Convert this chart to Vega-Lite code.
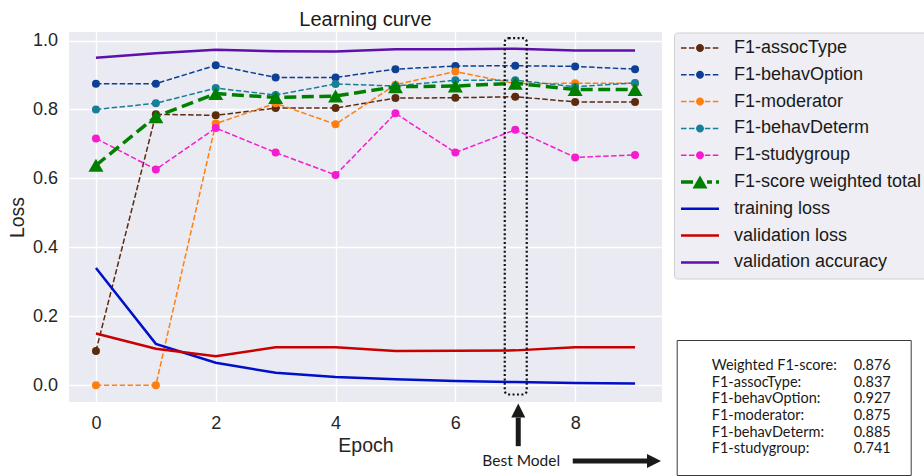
{
  "$schema": "https://vega.github.io/schema/vega-lite/v6.json",
  "width": 593,
  "height": 370,
  "autosize": {"type": "none"},
  "padding": {"left": 69, "top": 32, "right": 262, "bottom": 74},
  "background": "white",
  "config": {
    "view": {"fill": "#eaeaf2", "stroke": null},
    "font": "Liberation Sans",
    "axis": {
      "grid": true, "gridColor": "white", "gridWidth": 1.3, "domain": false, "ticks": false, "tickSize": 0,
      "labelFont": "Liberation Sans", "labelFontSize": 18, "labelColor": "#262626",
      "titleFont": "Liberation Sans", "titleFontSize": 19.5, "titleFontWeight": "normal", "titleColor": "#262626"
    }
  },
  "title": {"text": "Learning curve", "font": "Liberation Sans", "fontSize": 20, "fontWeight": "normal", "color": "#1a1a1a", "offset": 2, "frame": "group", "anchor": "middle"},
  "resolve": {"scale": {"shape": "independent", "fill": "independent"}},
  "datasets": {
    "curves": [
      {"epoch": 0, "series": "F1-assocType", "value": 0.099}, {"epoch": 1, "series": "F1-assocType", "value": 0.786}, {"epoch": 2, "series": "F1-assocType", "value": 0.783}, {"epoch": 3, "series": "F1-assocType", "value": 0.804}, {"epoch": 4, "series": "F1-assocType", "value": 0.804}, {"epoch": 5, "series": "F1-assocType", "value": 0.833}, {"epoch": 6, "series": "F1-assocType", "value": 0.834}, {"epoch": 7, "series": "F1-assocType", "value": 0.837}, {"epoch": 8, "series": "F1-assocType", "value": 0.822}, {"epoch": 9, "series": "F1-assocType", "value": 0.822},
      {"epoch": 0, "series": "F1-behavOption", "value": 0.875}, {"epoch": 1, "series": "F1-behavOption", "value": 0.875}, {"epoch": 2, "series": "F1-behavOption", "value": 0.928}, {"epoch": 3, "series": "F1-behavOption", "value": 0.893}, {"epoch": 4, "series": "F1-behavOption", "value": 0.893}, {"epoch": 5, "series": "F1-behavOption", "value": 0.917}, {"epoch": 6, "series": "F1-behavOption", "value": 0.926}, {"epoch": 7, "series": "F1-behavOption", "value": 0.927}, {"epoch": 8, "series": "F1-behavOption", "value": 0.925}, {"epoch": 9, "series": "F1-behavOption", "value": 0.917},
      {"epoch": 0, "series": "F1-moderator", "value": 0.0}, {"epoch": 1, "series": "F1-moderator", "value": 0.0}, {"epoch": 2, "series": "F1-moderator", "value": 0.759}, {"epoch": 3, "series": "F1-moderator", "value": 0.818}, {"epoch": 4, "series": "F1-moderator", "value": 0.757}, {"epoch": 5, "series": "F1-moderator", "value": 0.872}, {"epoch": 6, "series": "F1-moderator", "value": 0.91}, {"epoch": 7, "series": "F1-moderator", "value": 0.875}, {"epoch": 8, "series": "F1-moderator", "value": 0.876}, {"epoch": 9, "series": "F1-moderator", "value": 0.876},
      {"epoch": 0, "series": "F1-behavDeterm", "value": 0.8}, {"epoch": 1, "series": "F1-behavDeterm", "value": 0.818}, {"epoch": 2, "series": "F1-behavDeterm", "value": 0.862}, {"epoch": 3, "series": "F1-behavDeterm", "value": 0.842}, {"epoch": 4, "series": "F1-behavDeterm", "value": 0.874}, {"epoch": 5, "series": "F1-behavDeterm", "value": 0.868}, {"epoch": 6, "series": "F1-behavDeterm", "value": 0.885}, {"epoch": 7, "series": "F1-behavDeterm", "value": 0.885}, {"epoch": 8, "series": "F1-behavDeterm", "value": 0.866}, {"epoch": 9, "series": "F1-behavDeterm", "value": 0.877},
      {"epoch": 0, "series": "F1-studygroup", "value": 0.716}, {"epoch": 1, "series": "F1-studygroup", "value": 0.626}, {"epoch": 2, "series": "F1-studygroup", "value": 0.746}, {"epoch": 3, "series": "F1-studygroup", "value": 0.675}, {"epoch": 4, "series": "F1-studygroup", "value": 0.61}, {"epoch": 5, "series": "F1-studygroup", "value": 0.789}, {"epoch": 6, "series": "F1-studygroup", "value": 0.675}, {"epoch": 7, "series": "F1-studygroup", "value": 0.741}, {"epoch": 8, "series": "F1-studygroup", "value": 0.661}, {"epoch": 9, "series": "F1-studygroup", "value": 0.668},
      {"epoch": 0, "series": "F1-score weighted total", "value": 0.638}, {"epoch": 1, "series": "F1-score weighted total", "value": 0.779}, {"epoch": 2, "series": "F1-score weighted total", "value": 0.846}, {"epoch": 3, "series": "F1-score weighted total", "value": 0.835}, {"epoch": 4, "series": "F1-score weighted total", "value": 0.839}, {"epoch": 5, "series": "F1-score weighted total", "value": 0.866}, {"epoch": 6, "series": "F1-score weighted total", "value": 0.868}, {"epoch": 7, "series": "F1-score weighted total", "value": 0.876}, {"epoch": 8, "series": "F1-score weighted total", "value": 0.858}, {"epoch": 9, "series": "F1-score weighted total", "value": 0.858},
      {"epoch": 0, "series": "training loss", "value": 0.34}, {"epoch": 1, "series": "training loss", "value": 0.12}, {"epoch": 2, "series": "training loss", "value": 0.065}, {"epoch": 3, "series": "training loss", "value": 0.036}, {"epoch": 4, "series": "training loss", "value": 0.024}, {"epoch": 5, "series": "training loss", "value": 0.017}, {"epoch": 6, "series": "training loss", "value": 0.012}, {"epoch": 7, "series": "training loss", "value": 0.009}, {"epoch": 8, "series": "training loss", "value": 0.006}, {"epoch": 9, "series": "training loss", "value": 0.005},
      {"epoch": 0, "series": "validation loss", "value": 0.15}, {"epoch": 1, "series": "validation loss", "value": 0.106}, {"epoch": 2, "series": "validation loss", "value": 0.084}, {"epoch": 3, "series": "validation loss", "value": 0.11}, {"epoch": 4, "series": "validation loss", "value": 0.11}, {"epoch": 5, "series": "validation loss", "value": 0.099}, {"epoch": 6, "series": "validation loss", "value": 0.1}, {"epoch": 7, "series": "validation loss", "value": 0.101}, {"epoch": 8, "series": "validation loss", "value": 0.11}, {"epoch": 9, "series": "validation loss", "value": 0.11},
      {"epoch": 0, "series": "validation accuracy", "value": 0.95}, {"epoch": 1, "series": "validation accuracy", "value": 0.963}, {"epoch": 2, "series": "validation accuracy", "value": 0.973}, {"epoch": 3, "series": "validation accuracy", "value": 0.969}, {"epoch": 4, "series": "validation accuracy", "value": 0.968}, {"epoch": 5, "series": "validation accuracy", "value": 0.975}, {"epoch": 6, "series": "validation accuracy", "value": 0.975}, {"epoch": 7, "series": "validation accuracy", "value": 0.976}, {"epoch": 8, "series": "validation accuracy", "value": 0.971}, {"epoch": 9, "series": "validation accuracy", "value": 0.971}
    ],
    "best": [
      {"metric": "Weighted F1-score:", "score": 0.876},
      {"metric": "F1-assocType:", "score": 0.837},
      {"metric": "F1-behavOption:", "score": 0.927},
      {"metric": "F1-moderator:", "score": 0.875},
      {"metric": "F1-behavDeterm:", "score": 0.885},
      {"metric": "F1-studygroup:", "score": 0.741}
    ],
    "annot": [{"epoch": 7, "label": "Best Model"}]
  },
  "layer": [
    {
      "data": {"name": "curves"},
      "transform": [{"filter": {"field": "series", "oneOf": ["F1-assocType", "F1-behavOption", "F1-moderator", "F1-behavDeterm", "F1-studygroup"]}}],
      "mark": {"type": "line", "strokeWidth": 1.5, "strokeDash": [5.5, 2.4]},
      "encoding": {
        "x": {"field": "epoch", "type": "quantitative", "scale": {"domain": [-0.45, 9.45], "nice": false, "zero": false},
              "axis": {"values": [0, 2, 4, 6, 8], "format": "d", "title": "Epoch", "labelPadding": 12, "titlePadding": 4}},
        "y": {"field": "value", "type": "quantitative", "scale": {"domain": [-0.0488, 1.0248], "nice": false, "zero": false},
              "axis": {"values": [0, 0.2, 0.4, 0.6, 0.8, 1.0], "format": ".1f", "title": "Loss", "labelPadding": 11.5, "titlePadding": 5}},
        "color": {
          "field": "series", "type": "nominal",
          "scale": {
            "domain": ["F1-assocType", "F1-behavOption", "F1-moderator", "F1-behavDeterm", "F1-studygroup", "F1-score weighted total", "training loss", "validation loss", "validation accuracy"],
            "range": ["#5c2b0e", "#0d3f94", "#ff7f0e", "#197f99", "#f51ccf", "#008000", "#0010c8", "#c80000", "#5d10aa"]
          },
          "legend": null
        }
      }
    },
    {
      "data": {"name": "curves"},
      "transform": [{"filter": {"field": "series", "oneOf": ["F1-assocType", "F1-behavOption", "F1-moderator", "F1-behavDeterm", "F1-studygroup"]}}],
      "mark": {"type": "point", "filled": true, "size": 64, "opacity": 1, "strokeWidth": 0},
      "encoding": {
        "x": {"field": "epoch", "type": "quantitative"},
        "y": {"field": "value", "type": "quantitative"},
        "color": {"field": "series", "type": "nominal", "legend": null}
      }
    },
    {
      "data": {"name": "curves"},
      "transform": [{"filter": {"field": "series", "equal": "F1-score weighted total"}}],
      "mark": {"type": "line", "strokeWidth": 3.5, "strokeDash": [12, 5.5]},
      "encoding": {
        "x": {"field": "epoch", "type": "quantitative"},
        "y": {"field": "value", "type": "quantitative"},
        "color": {"field": "series", "type": "nominal", "legend": null}
      }
    },
    {
      "data": {"name": "curves"},
      "transform": [{"filter": {"field": "series", "equal": "F1-score weighted total"}}],
      "mark": {"type": "point", "shape": "triangle-up", "filled": true, "size": 225, "opacity": 1, "strokeWidth": 0},
      "encoding": {
        "x": {"field": "epoch", "type": "quantitative"},
        "y": {"field": "value", "type": "quantitative"},
        "color": {"field": "series", "type": "nominal", "legend": null}
      }
    },
    {
      "data": {"name": "curves"},
      "transform": [{"filter": {"field": "series", "oneOf": ["training loss", "validation loss", "validation accuracy"]}}],
      "mark": {"type": "line", "strokeWidth": 2.5},
      "encoding": {
        "x": {"field": "epoch", "type": "quantitative"},
        "y": {"field": "value", "type": "quantitative"},
        "color": {"field": "series", "type": "nominal", "legend": null}
      }
    },
    {
      "data": {"name": "curves"},
      "mark": {"type": "point", "filled": true, "size": 100, "opacity": 1, "strokeWidth": 0, "clip": true},
      "encoding": {
        "x": {"datum": -5},
        "y": {"datum": 0.5},
        "fill": {
          "field": "series", "type": "nominal",
          "scale": {
            "domain": ["F1-assocType", "F1-behavOption", "F1-moderator", "F1-behavDeterm", "F1-studygroup", "F1-score weighted total", "training loss", "validation loss", "validation accuracy"],
            "range": ["#5c2b0e", "#0d3f94", "#ff7f0e", "#197f99", "#f51ccf", "#008000", "#0010c8", "#c80000", "#5d10aa"]
          },
          "legend": {
            "title": null, "orient": "none", "legendX": 605, "legendY": 0.5,
            "padding": 6.5, "rowPadding": 8.8, "fillColor": "#eeeef4", "strokeColor": "#d0d0d0", "cornerRadius": 3,
            "symbolSize": 100, "symbolStrokeWidth": 0, "symbolOpacity": 1, "symbolOffset": 10.5, "labelOffset": 25,
            "labelFont": "Liberation Sans", "labelFontSize": 18, "labelColor": "#1a1a1a", "labelLimit": 400
          }
        },
        "shape": {
          "field": "series", "type": "nominal",
          "scale": {
            "domain": ["F1-assocType", "F1-behavOption", "F1-moderator", "F1-behavDeterm", "F1-studygroup", "F1-score weighted total", "training loss", "validation loss", "validation accuracy"],
            "range": [
              "M-3.8,-0.15H-2.69V0.15H-3.8Z M-2.21,-0.15H-1.1V0.15H-2.21Z M0.97,-0.15H2.08V0.15H0.97Z M2.56,-0.15H3.67V0.15H2.56Z M-0.8,0A0.8,0.8 0 1,0 0.8,0A0.8,0.8 0 1,0 -0.8,0Z",
              "M-3.8,-0.15H-2.69V0.15H-3.8Z M-2.21,-0.15H-1.1V0.15H-2.21Z M0.97,-0.15H2.08V0.15H0.97Z M2.56,-0.15H3.67V0.15H2.56Z M-0.8,0A0.8,0.8 0 1,0 0.8,0A0.8,0.8 0 1,0 -0.8,0Z",
              "M-3.8,-0.15H-2.69V0.15H-3.8Z M-2.21,-0.15H-1.1V0.15H-2.21Z M0.97,-0.15H2.08V0.15H0.97Z M2.56,-0.15H3.67V0.15H2.56Z M-0.8,0A0.8,0.8 0 1,0 0.8,0A0.8,0.8 0 1,0 -0.8,0Z",
              "M-3.8,-0.15H-2.69V0.15H-3.8Z M-2.21,-0.15H-1.1V0.15H-2.21Z M0.97,-0.15H2.08V0.15H0.97Z M2.56,-0.15H3.67V0.15H2.56Z M-0.8,0A0.8,0.8 0 1,0 0.8,0A0.8,0.8 0 1,0 -0.8,0Z",
              "M-3.8,-0.15H-2.69V0.15H-3.8Z M-2.21,-0.15H-1.1V0.15H-2.21Z M0.97,-0.15H2.08V0.15H0.97Z M2.56,-0.15H3.67V0.15H2.56Z M-0.8,0A0.8,0.8 0 1,0 0.8,0A0.8,0.8 0 1,0 -0.8,0Z",
              "M-3.8,-0.35H-1.4V0.35H-3.8Z M1.4,-0.35H2.4V0.35H1.4Z M3.2,-0.35H3.8V0.35H3.2Z M0,-1.3L1.5,1.3L-1.5,1.3Z",
              "M-3.8,-0.25H3.8V0.25H-3.8Z",
              "M-3.8,-0.25H3.8V0.25H-3.8Z",
              "M-3.8,-0.25H3.8V0.25H-3.8Z"
            ]
          },
          "legend": {
            "title": null, "orient": "none", "legendX": 605, "legendY": 0.5,
            "padding": 6.5, "rowPadding": 8.8, "fillColor": "#eeeef4", "strokeColor": "#d0d0d0", "cornerRadius": 3,
            "symbolSize": 100, "symbolStrokeWidth": 0, "symbolOpacity": 1, "symbolOffset": 10.5, "labelOffset": 25,
            "labelFont": "Liberation Sans", "labelFontSize": 18, "labelColor": "#1a1a1a", "labelLimit": 400
          }
        }
      }
    },
    {
      "data": {"name": "annot"},
      "mark": {"type": "rect", "filled": false, "stroke": "#111111", "strokeWidth": 2.2, "strokeDash": [2, 2.4], "cornerRadius": 4, "width": 22, "xOffset": 0.5},
      "encoding": {
        "x": {"field": "epoch", "type": "quantitative"},
        "y": {"datum": 1.007},
        "y2": {"datum": -0.027}
      }
    },
    {
      "data": {"name": "annot"},
      "mark": {"type": "rule", "strokeWidth": 5, "color": "#1a1a1a", "xOffset": 3},
      "encoding": {
        "x": {"field": "epoch", "type": "quantitative"},
        "y": {"datum": -0.094},
        "y2": {"datum": -0.177}
      }
    },
    {
      "data": {"name": "annot"},
      "mark": {"type": "point", "shape": "M0,-1L1,1L-1,1Z", "size": 196, "filled": true, "opacity": 1, "color": "#1a1a1a", "strokeWidth": 0, "xOffset": 3},
      "encoding": {
        "x": {"field": "epoch", "type": "quantitative"},
        "y": {"datum": -0.0733}
      }
    },
    {
      "data": {"name": "annot"},
      "mark": {"type": "text", "font": "Lato", "fontSize": 15.5, "color": "#1a1a1a", "dx": 6, "align": "center", "baseline": "middle"},
      "encoding": {
        "x": {"field": "epoch", "type": "quantitative"},
        "y": {"datum": -0.22},
        "text": {"field": "label"}
      }
    },
    {
      "data": {"name": "annot"},
      "mark": {"type": "rule", "strokeWidth": 5, "color": "#1a1a1a"},
      "encoding": {
        "x": {"datum": 7.96},
        "x2": {"datum": 9.22},
        "y": {"datum": -0.22}
      }
    },
    {
      "data": {"name": "annot"},
      "mark": {"type": "point", "shape": "M1,0L-1,-1L-1,1Z", "size": 196, "filled": true, "opacity": 1, "color": "#1a1a1a", "strokeWidth": 0},
      "encoding": {
        "x": {"datum": 9.316},
        "y": {"datum": -0.22}
      }
    },
    {
      "data": {"name": "best"},
      "transform": [{"fold": ["metric", "score"], "as": ["k", "entry"]}],
      "mark": {"type": "point", "filled": true, "size": 10, "clip": true},
      "encoding": {
        "x": {"datum": -5},
        "y": {"datum": 0.5},
        "fill": {
          "field": "entry", "type": "nominal",
          "scale": {"domain": ["Weighted F1-score:", 0.876, "F1-assocType:", 0.837, "F1-behavOption:", 0.927, "F1-moderator:", 0.875, "F1-behavDeterm:", 0.885, "F1-studygroup:", 0.741]},
          "legend": {
            "title": null, "orient": "none", "legendX": 607.7, "legendY": 308, "direction": "horizontal", "columns": 2, "columnPadding": -7, "rowPadding": 1.6,
            "padding": 19, "fillColor": "white", "strokeColor": "#3a3a3a", "cornerRadius": 0,
            "symbolOpacity": 0, "symbolSize": 0, "symbolStrokeWidth": 0, "labelOffset": 1.5,
            "labelFont": "Lato", "labelFontSize": 14.5, "labelColor": "#1a1a1a", "labelLimit": 400,
            "labelExpr": "isNumber(datum.value) ? datum.label + '                         ' : datum.label"
          }
        }
      }
    }
  ]
}
